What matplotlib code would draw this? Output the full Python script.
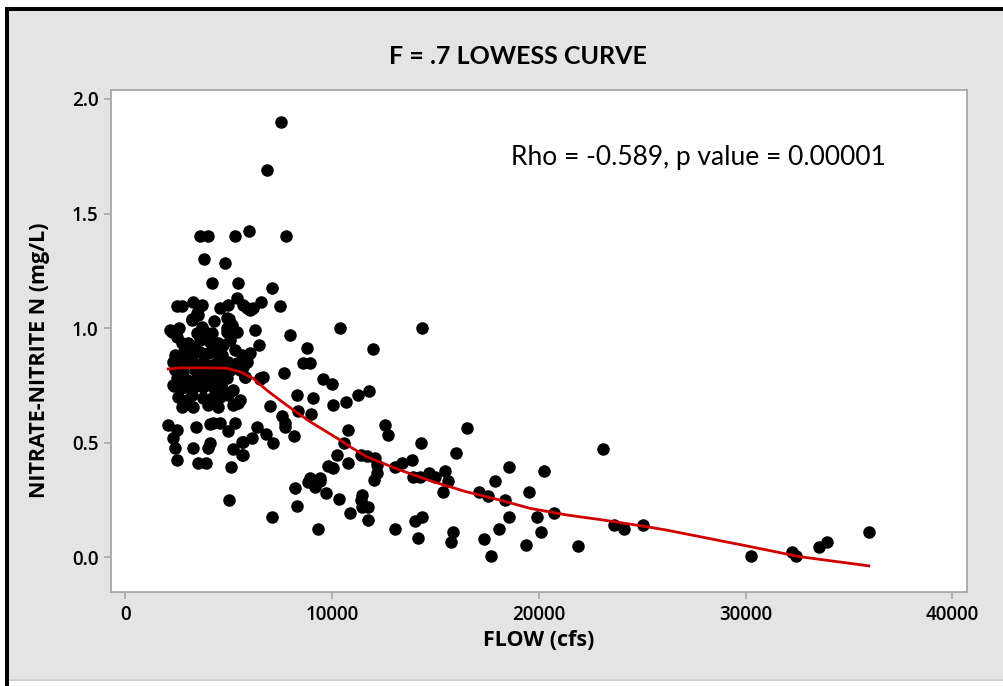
import numpy as np
import matplotlib
matplotlib.use('Agg')
from matplotlib import pyplot as plt
from matplotlib.patches import Rectangle

# observed samples (flow in cfs, nitrate-nitrite N in mg/L)
flow = [
    7540, 6860, 5980, 3600, 4000, 5300, 7750, 3810, 4830, 4170, 5430, 7070,
    2480, 2720, 3280, 3600, 4570, 4970, 5380, 5700, 6180, 6540, 7470, 3690, 5860, 6020,
    3230, 4300, 5000, 3440, 3520, 3200, 4900, 5140,
    2150, 2580, 3690, 4900, 5380, 6260, 7960, 10380, 14360, 2230, 2480, 3850, 3440,
    4170, 4900, 5220, 5300,
    2720, 3040, 3280, 3600, 4090, 4490, 4730, 5060,
    2390, 2800, 3200, 3600, 4010, 4410, 4650, 5300, 5620,
    2310, 2800, 3280, 3760, 4170, 4490, 4970, 5380, 5860,
    2390, 2800, 3360, 3850, 4330, 4570, 5060, 5540, 5780, 6510,
    2480, 2960, 3440, 3930, 4410, 4900,
    2310, 2720, 3280, 3760, 4250, 4650, 5220,
    2550, 3200, 3760, 4170, 4570, 4970, 5540,
    2720, 3280, 4010, 4490, 5220,
    2960, 4250, 5460,
    2350, 2070, 2480, 2310, 2390, 2480,
    4090, 4250, 4570, 4970, 5300, 3410, 3280, 4090, 4000, 3520, 3890, 5220,
    5620, 5650, 5100, 5020, 7070,
    8770, 11990, 8600, 8930, 6460, 6020, 5860, 5700, 7680, 5780, 6500, 6640,
    9570, 9970, 8280, 9090, 11260, 11800, 10670, 10050, 6990, 8360, 8960, 7560,
    7720, 7720, 6350, 6800, 8150, 7150, 6100, 5670, 5670, 10780, 10590, 12550,
    12680, 14300, 10250, 10780, 11380, 11670, 12070, 12150, 12150, 12040, 13040,
    13360, 13850, 9810, 10050, 8930, 9410, 13920, 14250, 14700, 14970, 16540,
    15990, 15460, 15590, 15380, 17090, 17550, 17890, 18570, 18360, 19500, 20260,
    23090, 20730, 19920, 20120, 19380, 21880, 23630, 24120, 25050, 18080, 18550,
    17670, 17340, 15860, 15730, 14170, 14000, 14330, 13020, 11720, 11430, 11390,
    11430, 11750, 10860, 10330, 9700, 9300, 8840, 9170, 9410, 8200, 8280,
    30280, 32230, 32440, 33570, 33940, 35960,
]
nitrate = [
    1.90, 1.69, 1.425, 1.40, 1.40, 1.40, 1.40, 1.30, 1.285, 1.195, 1.195, 1.175,
    1.096, 1.096, 1.115, 1.096, 1.086, 1.10, 1.13, 1.10, 1.086, 1.115, 1.096, 1.10, 1.086, 1.079,
    1.04, 1.03, 1.04, 1.065, 1.057, 1.035, 1.043, 1.014,
    0.99, 1.00, 1.006, 1.00, 0.985, 0.99, 0.97, 1.00, 1.00, 0.984, 0.962, 0.984, 0.977,
    0.977, 0.984, 0.992, 0.984,
    0.934, 0.934, 0.919, 0.948, 0.941, 0.934, 0.926, 0.948,
    0.883, 0.890, 0.883, 0.897, 0.890, 0.904, 0.883, 0.904, 0.883,
    0.853, 0.853, 0.846, 0.853, 0.839, 0.861, 0.853, 0.846, 0.853,
    0.817, 0.810, 0.817, 0.817, 0.810, 0.817, 0.817, 0.817, 0.788, 0.781,
    0.781, 0.774, 0.781, 0.774, 0.774, 0.781,
    0.752, 0.737, 0.737, 0.744, 0.744, 0.737, 0.730,
    0.701, 0.708, 0.694, 0.694, 0.701, 0.708, 0.686,
    0.657, 0.657, 0.664, 0.657, 0.664,
    0.686, 0.672, 0.672,
    0.749, 0.577, 0.555, 0.519, 0.476, 0.425,
    0.580, 0.585, 0.585, 0.550, 0.585, 0.567, 0.476, 0.497, 0.476, 0.413, 0.413, 0.471,
    0.504, 0.445, 0.395, 0.250, 0.175,
    0.914, 0.907, 0.849, 0.849, 0.926, 0.890, 0.875, 0.830, 0.805, 0.785, 0.780, 0.788,
    0.779, 0.756, 0.707, 0.694, 0.707, 0.727, 0.676, 0.663, 0.661, 0.640, 0.627, 0.616,
    0.587, 0.567, 0.567, 0.537, 0.531, 0.500, 0.519, 0.504, 0.446, 0.555, 0.500, 0.577,
    0.535, 0.500, 0.446, 0.413, 0.446, 0.442, 0.432, 0.403, 0.366, 0.337, 0.395,
    0.410, 0.425, 0.398, 0.388, 0.345, 0.345, 0.352, 0.352, 0.366, 0.352, 0.566,
    0.456, 0.378, 0.333, 0.286, 0.286, 0.267, 0.333, 0.395, 0.249, 0.286, 0.378,
    0.474, 0.195, 0.176, 0.109, 0.054, 0.048, 0.140, 0.125, 0.140, 0.125, 0.176,
    0.004, 0.079, 0.109, 0.065, 0.084, 0.158, 0.176, 0.126, 0.163, 0.272, 0.250,
    0.221, 0.218, 0.195, 0.254, 0.279, 0.126, 0.330, 0.305, 0.333, 0.304, 0.225,
    0.006, 0.023, 0.006, 0.046, 0.065, 0.109,
]

# lowess curve (f = 0.7)
lowess_x = [2070, 2640, 4090, 4900, 5540, 6180, 6830, 7470, 8120, 8930, 9730,
            10380, 10860, 11670, 12470, 13280, 14890, 16500, 18120, 19570,
            21350, 22960, 25210, 26180, 30000, 32630, 35960]
lowess_y = [0.822, 0.827, 0.827, 0.825, 0.810, 0.781, 0.730, 0.686, 0.643, 0.592, 0.548,
            0.512, 0.483, 0.439, 0.410, 0.381, 0.330, 0.286, 0.250, 0.214,
            0.185, 0.165, 0.134, 0.119, 0.051, 0.003, -0.037]

x_ticks = [0, 10000, 20000, 30000, 40000]
y_ticks = [0.0, 0.5, 1.0, 1.5, 2.0]

W, H = 1004, 686
fig = plt.figure(figsize=(W / 100, H / 100), dpi=100, facecolor='white')

# grey panel with black top/left edge
fig.add_artist(Rectangle((5 / W, 5 / H), 1 - 5 / W, 674 / H, transform=fig.transFigure,
                         facecolor='#e4e4e4', edgecolor='none', zorder=0))
fig.add_artist(Rectangle((5 / W, 5 / H), 1 - 5 / W, 2 / H, transform=fig.transFigure,
                         facecolor='#cfcfcf', edgecolor='none', zorder=1))
fig.add_artist(Rectangle((5 / W, 675 / H), 1 - 5 / W, 4 / H, transform=fig.transFigure,
                         facecolor='black', edgecolor='none', zorder=2))
fig.add_artist(Rectangle((5 / W, 0), 4 / W, 679 / H, transform=fig.transFigure,
                         facecolor='black', edgecolor='none', zorder=2))

ax = fig.add_axes([111 / W, 1 - 592 / H, (967 - 111) / W, (592 - 90) / H])
ax.set_facecolor('white')

ax.plot(flow, nitrate, 'o', color='black', markersize=8, zorder=3)
ax.plot(lowess_x, lowess_y, color='#d00000', lw=2, zorder=4)

ax.set_xlim(-700, 40710)
ax.set_ylim(-0.151, 2.039)
ax.set_xticks(x_ticks)
ax.set_xticklabels([str(t) for t in x_ticks])
ax.set_yticks(y_ticks)
ax.set_yticklabels(['%.1f' % t for t in y_ticks])

for s in ax.spines.values():
    s.set_color('#a8a8a8')
    s.set_linewidth(1.3)
ax.tick_params(colors='#a8a8a8', length=5, width=1.2, labelcolor='black',
               labelsize=13.5, pad=4)
for lab in ax.get_xticklabels() + ax.get_yticklabels():
    lab.set_family('Open Sans')
    lab.set_fontweight('semibold')

ax.set_xlabel('FLOW (cfs)', fontsize=15.5, fontweight='bold', family='Open Sans', labelpad=4)
ax.set_ylabel('NITRATE-NITRITE N (mg/L)', fontsize=15.5, fontweight='bold',
              family='Open Sans')
ax.yaxis.set_label_coords(-0.071, 0.462)

fig.text(518 / W, 1 - 57 / H, 'F = .7 LOWESS CURVE', ha='center', va='center',
         fontsize=18, fontweight='bold', family='Lato')
ax.text(698 / W, 1 - 157 / H, 'Rho = -0.589, p value = 0.00001', transform=fig.transFigure,
        ha='center', va='center', fontsize=19, family='Lato')

fig.savefig('out.png', dpi=100)
